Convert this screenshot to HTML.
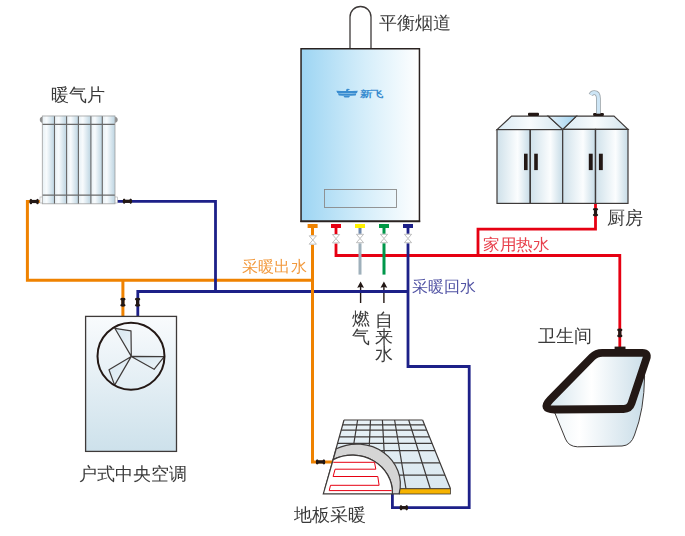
<!DOCTYPE html>
<html><head><meta charset="utf-8">
<style>
html,body{margin:0;padding:0;background:#fff;width:685px;height:536px;overflow:hidden}
svg{display:block;font-family:"Liberation Sans",sans-serif}
</style></head><body>
<svg width="685" height="536" viewBox="0 0 685 536">
<defs>
<filter id="fx" x="-5%" y="-5%" width="110%" height="110%"><feOffset dx="0" dy="0"/></filter>
<linearGradient id="gBoiler" x1="0" x2="1" y1="0" y2="0">
<stop offset="0" stop-color="#9dd5f3"/><stop offset="0.55" stop-color="#d6eefa"/><stop offset="1" stop-color="#ffffff"/>
</linearGradient>
<linearGradient id="gAC" x1="0" x2="0" y1="0" y2="1">
<stop offset="0" stop-color="#f9fbfd"/><stop offset="1" stop-color="#cde1eb"/>
</linearGradient>
<linearGradient id="gCol" x1="0" x2="1" y1="0" y2="0">
<stop offset="0" stop-color="#e6f0f5"/><stop offset="0.35" stop-color="#f8fbfd"/><stop offset="1" stop-color="#bcd4e1"/>
</linearGradient>
<linearGradient id="gCab" x1="0" x2="1" y1="0" y2="0">
<stop offset="0" stop-color="#cfe1ea"/><stop offset="0.62" stop-color="#fbfdfe"/><stop offset="1" stop-color="#c6dbe6"/>
</linearGradient>
<linearGradient id="gTop" x1="0" x2="1" y1="0" y2="0">
<stop offset="0" stop-color="#d9e9f2"/><stop offset="0.5" stop-color="#f8fbfd"/><stop offset="1" stop-color="#d3e5ee"/>
</linearGradient>
<linearGradient id="gTub" x1="0" x2="1" y1="0" y2="0">
<stop offset="0" stop-color="#d2e3ec"/><stop offset="0.45" stop-color="#ffffff"/><stop offset="1" stop-color="#c9dde8"/>
</linearGradient>
<linearGradient id="gBody" x1="0" x2="1" y1="0" y2="0">
<stop offset="0" stop-color="#eef5f8"/><stop offset="0.3" stop-color="#ffffff"/><stop offset="1" stop-color="#c9dde8"/>
</linearGradient>
<linearGradient id="gV" x1="0" x2="1" y1="0" y2="0">
<stop offset="0" stop-color="#e4f1f9"/><stop offset="1" stop-color="#9fd3f1"/>
</linearGradient>
<linearGradient id="gBlade" x1="0" x2="1" y1="0" y2="1">
<stop offset="0" stop-color="#d6e6ef"/><stop offset="1" stop-color="#eef5f9"/>
</linearGradient>
<linearGradient id="gGrid" x1="0" x2="0" y1="0" y2="1">
<stop offset="0" stop-color="#e8f1f6"/><stop offset="1" stop-color="#dae8f0"/>
</linearGradient>
</defs>

<!-- ============ PIPES ============ -->
<g fill="none" stroke-width="3" stroke-linejoin="miter" stroke-linecap="butt">
<path stroke="#e60012" stroke-width="2.8" d="M336,228 V255.5 H619.8 V348"/>
<path stroke="#e60012" stroke-width="2.8" d="M478,255.5 V229.2 H595.5 V203.4"/>
<path stroke="#ef8200" d="M27.4,201.5 H42 M27.4,200 V280.2 H312.5 M122.9,280.2 V316.5"/>
</g>
<!-- arrows -->
<g stroke="#231815" stroke-width="1.4" fill="none"><path d="M360.6,286 V303 M383.9,286 V303"/></g>
<g fill="#231815"><path d="M360.6,281.5 L364,287.8 L360.6,287.1 L357.2,287.8 Z M383.9,281.5 L387.3,287.8 L383.9,287.1 L380.5,287.8 Z"/></g>
<g fill="none" stroke-width="3" stroke-linejoin="miter" stroke-linecap="butt">
<path stroke="#1d2088" stroke-width="2.8" d="M117,201.3 H215.5 V291.3"/>
<path stroke="#1d2088" stroke-width="2.8" d="M137.8,316.5 V291.5 H408"/>
<path stroke="#1d2088" stroke-width="2.8" d="M408,228 V366.5 H469.2 V507.7 H392.4 V493.5"/>
<path stroke="#ef8200" d="M312.5,228 V461.9 H333.5"/>
<path stroke="#9fb0bb" d="M360,242 V274.6"/>
<path stroke="#6e87aa" d="M360,228 V236"/>
<path stroke="#00974a" d="M384,228 V274.6"/>
</g>
<!-- connector caps -->
<rect x="307.6" y="224" width="10" height="4" fill="#ef8200"/>
<rect x="331" y="224" width="10" height="4" fill="#e60012"/>
<rect x="355" y="224" width="10" height="4" fill="#fff100"/>
<rect x="379" y="224" width="10" height="4" fill="#009944"/>
<rect x="403" y="224" width="10" height="4" fill="#1d2088"/>
<!-- boiler valves (bowties) -->
<rect x="308.3" y="235.3" width="9" height="9.5" fill="#fff"/><path d="M309.2,235.8 H316.40000000000003 L312.8,240.0 L316.40000000000003,244.20000000000002 H309.2 L312.8,240.0 Z" fill="#fff" stroke="#b8b8b8" stroke-width="0.9"/>
<rect x="331.5" y="234.0" width="9" height="9.5" fill="#fff"/><path d="M332.4,234.5 H339.6 L336,238.7 L339.6,242.9 H332.4 L336,238.7 Z" fill="#fff" stroke="#b8b8b8" stroke-width="0.9"/>
<rect x="355.5" y="233.8" width="9" height="9.5" fill="#fff"/><path d="M356.4,234.3 H363.6 L360,238.5 L363.6,242.70000000000002 H356.4 L360,238.5 Z" fill="#fff" stroke="#b8b8b8" stroke-width="0.9"/>
<rect x="379.5" y="233.8" width="9" height="9.5" fill="#fff"/><path d="M380.4,234.3 H387.6 L384,238.5 L387.6,242.70000000000002 H380.4 L384,238.5 Z" fill="#fff" stroke="#b8b8b8" stroke-width="0.9"/>
<rect x="403.5" y="233.8" width="9" height="9.5" fill="#fff"/><path d="M404.4,234.3 H411.6 L408,238.5 L411.6,242.70000000000002 H404.4 L408,238.5 Z" fill="#fff" stroke="#b8b8b8" stroke-width="0.9"/>
<!-- black dumbbell valves -->
<g fill="#231815">
<ellipse cx="30.9" cy="201.5" rx="1.4" ry="2.7"/><ellipse cx="37.5" cy="201.5" rx="1.4" ry="2.7"/><rect x="30.6" y="199.9" width="7.2" height="3.2"/>
<ellipse cx="124.1" cy="201.3" rx="1.4" ry="2.7"/><ellipse cx="130.7" cy="201.3" rx="1.4" ry="2.7"/><rect x="123.8" y="199.7" width="7.2" height="3.2"/>
<ellipse cx="317.2" cy="461.9" rx="1.4" ry="2.7"/><ellipse cx="323.9" cy="461.9" rx="1.4" ry="2.7"/><rect x="316.9" y="460.3" width="7.3" height="3.2"/>
<ellipse cx="401.0" cy="507.7" rx="1.4" ry="2.7"/><ellipse cx="406.7" cy="507.7" rx="1.4" ry="2.7"/><rect x="400.7" y="506.1" width="6.3" height="3.2"/>
<ellipse cx="122.9" cy="299.2" rx="2.7" ry="1.4"/><ellipse cx="122.9" cy="305.3" rx="2.7" ry="1.4"/><rect x="121.3" y="298.9" width="3.2" height="6.7"/>
<ellipse cx="137.6" cy="299.2" rx="2.7" ry="1.4"/><ellipse cx="137.6" cy="305.3" rx="2.7" ry="1.4"/><rect x="136.0" y="298.9" width="3.2" height="6.7"/>
<ellipse cx="595.5" cy="209.3" rx="2.7" ry="1.4"/><ellipse cx="595.5" cy="215.1" rx="2.7" ry="1.4"/><rect x="593.9" y="209.0" width="3.2" height="6.4"/>
<ellipse cx="619.8" cy="330.0" rx="2.7" ry="1.4"/><ellipse cx="619.8" cy="336.0" rx="2.7" ry="1.4"/><rect x="618.2" y="329.7" width="3.2" height="6.6"/>
</g>

<!-- ============ BOILER ============ -->
<path d="M350,48 V17 A10.5,10.5 0 0 1 371,17 V48" fill="#fff" stroke="#3e3a39" stroke-width="1.3"/>
<rect x="301.05" y="48.75" width="118.4" height="172.5" fill="url(#gBoiler)" stroke="#2a2220" stroke-width="1.5"/>
<path d="M300.3,221.3 H420.2" stroke="#2a2220" stroke-width="1.8"/>
<rect x="324.5" y="189.5" width="72" height="18" fill="none" stroke="#8a8a8a" stroke-width="0.9"/>
<!-- logo -->
<g fill="#3a8dd0">
<path d="M336.3,90.8 Q346,91.3 357.8,90.8 L357,92.9 Q346,93.3 337.3,92.9 Z"/>
<path d="M337.8,93.3 Q346,93.7 356.4,93.3 L355.7,95.6 Q346,96 338.8,95.6 Z"/>
<path d="M343.5,96 H350 L349,97.6 H344.5 Z"/>
<path d="M345.8,91.8 L346.5,89 Q348,88.3 350.2,89.2 L348.3,90.3 L347.5,92.5 Z"/>
</g>
<text transform="translate(360,97.4) scale(1.38,1)" font-size="8.6" font-weight="bold" fill="#3a8dd0">新飞</text>

<!-- ============ RADIATOR ============ -->
<g>
<path d="M42.5,116.8 Q39.6,117.2 39.8,119.8 Q39.8,122.4 42.5,122.8 Z" fill="#8f8f8f"/>
<path d="M114.8,116.8 Q117.7,117.2 117.7,119.8 Q117.7,122.4 114.8,122.8 Z" fill="#8f8f8f"/>
<rect x="40" y="197" width="3" height="6" fill="#fff" stroke="#aaa" stroke-width="0.6"/>
<rect x="114.5" y="197" width="3" height="6" fill="#fff" stroke="#aaa" stroke-width="0.6"/>
<g fill="url(#gCol)">
<rect x="42.3" y="115.7" width="12.2" height="88.2"/>
<rect x="54.5" y="115.7" width="12.1" height="88.2"/>
<rect x="66.6" y="115.7" width="11.8" height="88.2"/>
<rect x="78.4" y="115.7" width="12.5" height="88.2"/>
<rect x="90.9" y="115.7" width="11.4" height="88.2"/>
<rect x="102.3" y="115.7" width="12.7" height="88.2"/>
</g>
<g stroke="#666" stroke-width="1.1" fill="none">
<path d="M54.5,116 V204 M66.6,116 V204 M78.4,116 V204 M90.9,116 V204 M102.3,116 V204"/>
<path d="M42.3,124.4 H115 M42.3,195.1 H115" stroke="#6a6a6a"/>
<rect x="42.3" y="116" width="72.7" height="87.8" stroke="#a0a0a0" stroke-width="0.8"/>
</g>
</g>

<!-- ============ AC UNIT ============ -->
<rect x="85.6" y="316.4" width="90.9" height="135" fill="url(#gAC)" stroke="#3e3a39" stroke-width="1.3"/>
<g fill="url(#gBlade)" stroke="#3e3a39" stroke-width="1.2" stroke-linejoin="round">
<path d="M131.3,356.4 L114.8,328.3 L131,330.8 Z"/>
<path d="M131.3,356.4 L164.2,356.6 L154.1,369.3 Z"/>
<path d="M131.3,356.4 L109,369.7 L114.6,385.1 Z"/>
</g>
<circle cx="131" cy="356.2" r="33.5" fill="none" stroke="#231815" stroke-width="2"/>

<!-- ============ KITCHEN ============ -->
<g stroke="#3e3a39" stroke-width="1.2" stroke-linejoin="miter">
<path d="M497,129.6 L511.6,116.1 H548.2 L562.7,129.4 Z" fill="url(#gTop)"/>
<path d="M562.7,129.4 L576.4,116.1 H614 L628,129.4 Z" fill="url(#gTop)"/>
<path d="M548.2,116.1 H576.4 L562.7,129.4 Z" fill="url(#gV)"/>
<rect x="497" y="129.6" width="33.3" height="73.8" fill="url(#gCab)"/>
<rect x="530.3" y="129.6" width="32.4" height="73.8" fill="url(#gCab)"/>
<rect x="562.7" y="129.4" width="32.8" height="74" fill="url(#gCab)"/>
<rect x="595.5" y="129.4" width="32.5" height="74" fill="url(#gCab)"/>
<path d="M530.3,129.6 V203.4 M595.5,129.4 V203.4" fill="none"/>
</g>
<g fill="#231815">
<rect x="524" y="153.7" width="3.6" height="16.4"/>
<rect x="534.2" y="153.7" width="3.6" height="16.4"/>
<rect x="588.8" y="153.7" width="3.9" height="16.4"/>
<rect x="598.9" y="153.7" width="3.9" height="16.4"/>
<rect x="528" y="112.7" width="11" height="3.4" rx="1"/>
<rect x="593.1" y="113.1" width="10.8" height="3" rx="1"/>
</g>
<path d="M598.4,113.5 V98.5 Q598.4,92.6 594.2,92.6 Q592,92.6 590.8,94.8" fill="none" stroke="#9aa3a8" stroke-width="4.8"/>
<path d="M598.4,113.5 V98.5 Q598.4,92.6 594.2,92.6 Q592,92.6 590.8,94.8" fill="none" stroke="#cde5f5" stroke-width="3.2"/>

<!-- ============ BATHTUB ============ -->
<path d="M552,406 L565.5,439 Q568.5,446.5 577.5,446.8 L622,446 Q631,445.5 634.5,435 Q644.2,410 644.6,376 L640,360 Z" fill="url(#gBody)" stroke="#3e3a39" stroke-width="1"/>
<path d="M602.3,352.8 L642.3,352.8 Q648.3,352.8 646.4,358.5 L631.5,403.3 Q629.6,409.0 623.6,409.0 L554.6,409.5 Q540.6,409.6 550.4,399.6 L592.1,357.1 Q596.3,352.8 602.3,352.8 Z" fill="url(#gTub)" stroke="#231815" stroke-width="7.8" stroke-linejoin="round"/>
<rect x="614.6" y="346.6" width="10.9" height="3" fill="#231815"/>

<!-- ============ FLOOR HEATING ============ -->
<path d="M344,420 L422.6,420 L450.5,488.8 L324.9,488.8 Z" fill="url(#gGrid)"/>
<g stroke="#3e3a39" stroke-width="1.2" fill="none">
<path d="M344,420 H422.6 M342.7,424.8 H424.5 M341.2,430.2 H426.7 M339.3,436.8 H429.4 M337.5,443.4 H432.1 M335.4,450.7 H435.1 M332.1,462.8 H440 M328.6,475.2 H445 M324.9,488.8 H450.5"/>
<path d="M344,420 L324.9,488.8 M357.6,420 L346.6,488.8 M370.5,420 L367.2,488.8 M382.4,420 L386.2,488.8 M394.6,420 L406,488.8 M408.7,420 L430.3,488.8 M422.6,420 L450.5,488.8"/>
</g>
<rect x="399.5" y="488.8" width="51" height="5.2" fill="#f6b300" stroke="#3e3a39" stroke-width="0.8"/>
<path d="M336.2,448.8 A43.6,40.1 0 0 1 399.1,493.8 L392.4,493.8 A40.2,37.5 0 0 0 333.2,459.6 Z" fill="#d5d5d5" stroke="#3e3a39" stroke-width="1.2"/>
<path d="M333.2,459.6 A40.2,37.5 0 0 1 392.4,493.8 L323.3,493.8 Z" fill="#fff" stroke="#3e3a39" stroke-width="1.2"/>
<path d="M333.3,462.3 H374.5 L375.8,469.2 H335.1 L333.1,476.5 H377.8 L379.1,485.3 H330.5 L329.2,490.6 H391.6" fill="none" stroke="#e60012" stroke-width="1"/>

<!-- ============ TEXT ============ -->
<g font-size="18" fill="#3a3a3a" filter="url(#fx)">
<text x="379" y="29.3">平衡烟道</text>
<text x="51.3" y="101">暖气片</text>
<text x="607.3" y="224.4">厨房</text>
<text x="538" y="342.4">卫生间</text>
<text x="78.5" y="480">户式中央空调</text>
<text x="293.6" y="521.2">地板采暖</text>
<text x="351.6" y="324.8">燃</text>
<text x="351.6" y="343">气</text>
<text x="375.2" y="325.5">自</text>
<text x="375.2" y="343">来</text>
<text x="375.2" y="360.4">水</text>
</g>
<text x="242.2" y="272.3" font-size="16.2" textLength="64.5" lengthAdjust="spacingAndGlyphs" fill="#f29a3e" filter="url(#fx)">采暖出水</text>
<text x="483" y="250" font-size="16.2" textLength="66.5" lengthAdjust="spacingAndGlyphs" fill="#e8404c" filter="url(#fx)">家用热水</text>
<text x="411.5" y="291.7" font-size="16" fill="#5153a4" filter="url(#fx)">采暖回水</text>
</svg>
</body></html>
